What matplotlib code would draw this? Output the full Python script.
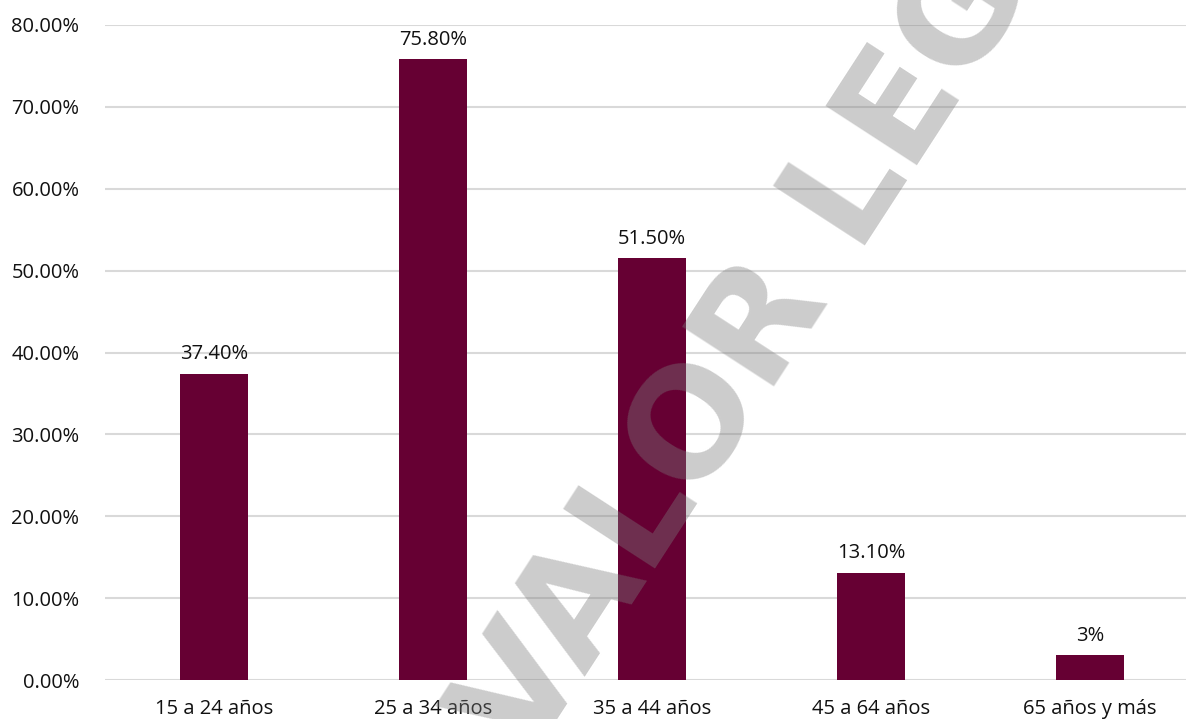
import matplotlib
matplotlib.use('Agg')
import matplotlib.pyplot as plt
from matplotlib.ticker import FuncFormatter

categories = ['15 a 24 años', '25 a 34 años', '35 a 44 años', '45 a 64 años', '65 años y más']
values = [37.4, 75.8, 51.5, 13.1, 3.0]
value_labels = ['37.40%', '75.80%', '51.50%', '13.10%', '3%']
y_ticks = [0, 10, 20, 30, 40, 50, 60, 70, 80]

plt.rcParams['font.family'] = ['Open Sans', 'DejaVu Sans']

W, H = 1186, 719
fig = plt.figure(figsize=(W / 100, H / 100), dpi=100)
fig.patch.set_facecolor('#ffffff')

# axes in pixel coordinates
left, right = 104.5, 1199.5
top, bottom = 25, 680
ax = fig.add_axes([left / W, (H - bottom) / H, (right - left) / W, (bottom - top) / H])
ax.set_facecolor('#ffffff')

x = range(len(categories))
ax.bar(x, values, width=0.315, color='#660033', zorder=3)

for xi, v, lab in zip(x, values, value_labels):
    ax.annotate(lab, (xi, v), xytext=(0, 7), textcoords='offset points',
                ha='center', va='bottom', fontsize=14.5, color='#111111', zorder=4)

ax.set_xlim(-0.5, len(categories) - 0.5)
ax.set_ylim(0, 80)
ax.set_yticks(y_ticks)
ax.yaxis.set_major_formatter(FuncFormatter(lambda v, p: f'{v:.2f}%'))
ax.set_xticks(list(x))
ax.set_xticklabels(categories)
ax.tick_params(axis='both', length=0, labelsize=14.5, colors='#111111')
ax.tick_params(axis='x', pad=14)
ax.tick_params(axis='y', pad=18)
ax.grid(axis='y', color='#d9d9d9', linewidth=1.5, zorder=0)
for s in ax.spines.values():
    s.set_visible(False)

# watermark
fig.text(527 / W, (H - 766) / H, 'VALOR LEGAL', fontsize=108, fontweight='bold',
         family=['DejaVu Sans'],
         color='#7c7c7c', alpha=0.39, rotation=57, rotation_mode='anchor',
         ha='left', va='baseline', zorder=10)

fig.savefig('out.png', dpi=100)
